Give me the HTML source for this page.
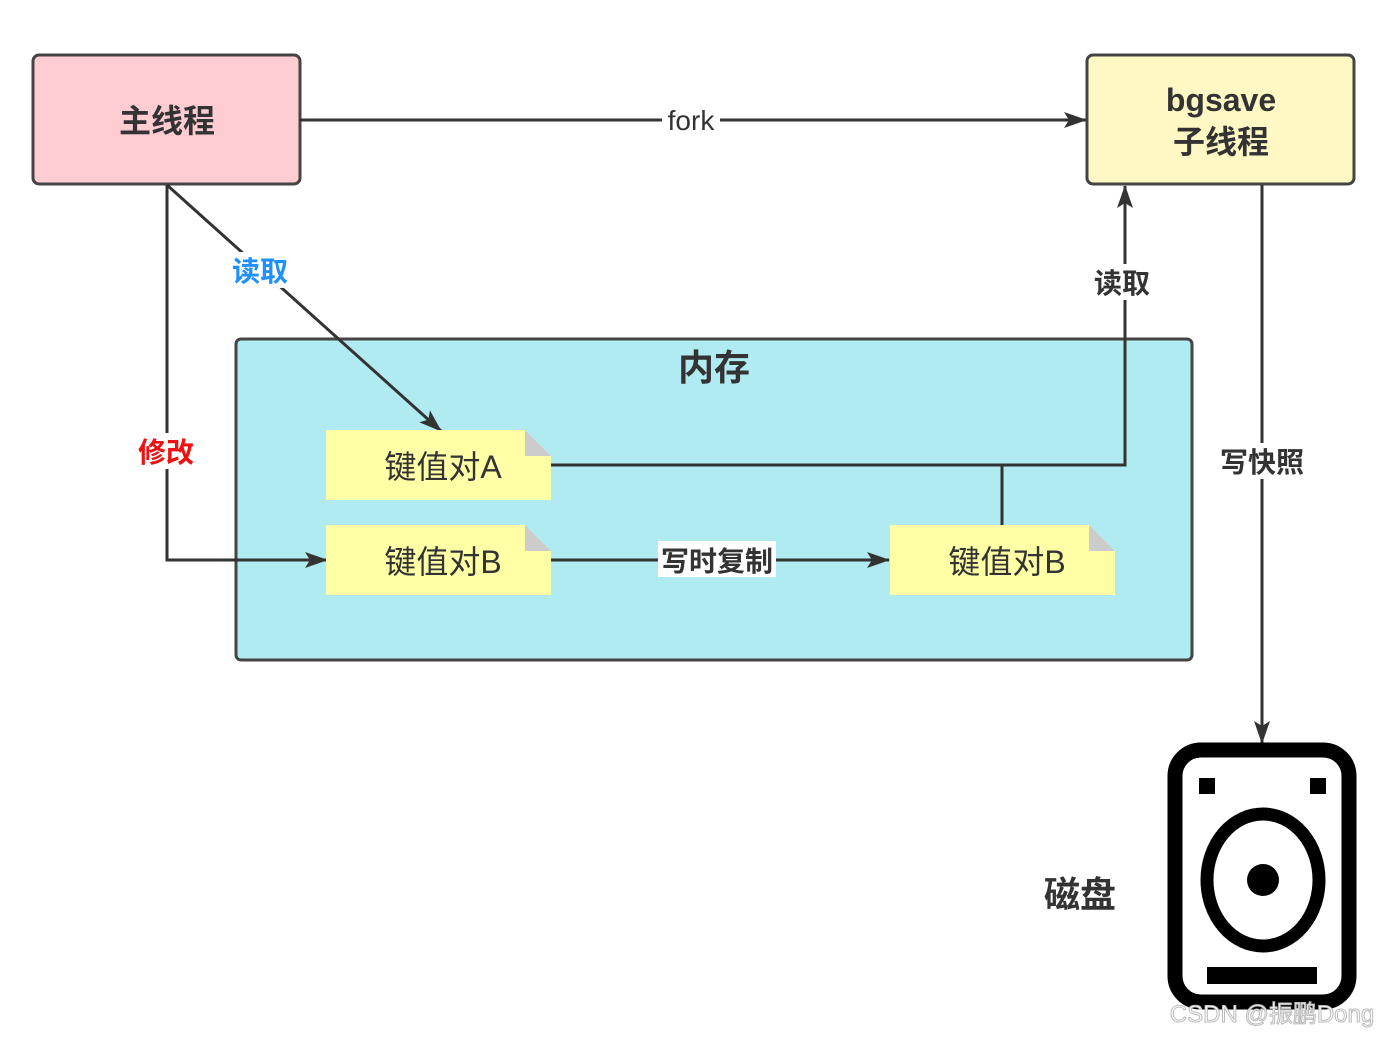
<!DOCTYPE html>
<html><head><meta charset="utf-8"><style>
html,body{margin:0;padding:0;background:#fff;}
svg{display:block;}
text{font-family:"Liberation Sans","Noto Sans CJK SC",sans-serif;}
</style></head><body>
<svg width="1383" height="1037" viewBox="0 0 1383 1037" xmlns="http://www.w3.org/2000/svg">
<defs>
<marker id="ar" markerWidth="12" markerHeight="12" refX="11" refY="6" orient="auto" markerUnits="userSpaceOnUse">
<path d="M0,0 L12,6 L0,12 L3,6 Z" fill="#333"/>
</marker>
<marker id="ar2" markerWidth="24" markerHeight="16" refX="22" refY="8" orient="auto" markerUnits="userSpaceOnUse">
<path d="M0,0 L23,8 L0,16 L5,8 Z" fill="#333"/>
</marker>
</defs>
<!-- memory -->
<rect x="236" y="339" width="956" height="321" rx="5" fill="#b0ebf2" stroke="#444" stroke-width="3"/>
<text x="714" y="380" font-size="36" font-weight="bold" fill="#333" text-anchor="middle">内存</text>
<!-- main thread -->
<rect x="33" y="55" width="267" height="129" rx="6" fill="#ffccd2" stroke="#444" stroke-width="3"/>
<text x="167" y="132" font-size="32" font-weight="bold" fill="#333" text-anchor="middle">主线程</text>
<!-- bgsave -->
<rect x="1087" y="55" width="267" height="129" rx="6" fill="#fff8c4" stroke="#444" stroke-width="3"/>
<text x="1221" y="111" font-size="32" font-weight="bold" fill="#333" text-anchor="middle">bgsave</text>
<text x="1221" y="153" font-size="32" font-weight="bold" fill="#333" text-anchor="middle">子线程</text>
<!-- lines -->
<g stroke="#333" stroke-width="3" fill="none">
<line x1="300" y1="120" x2="1086" y2="120" marker-end="url(#ar2)"/>
<line x1="167" y1="185" x2="441" y2="431" marker-end="url(#ar2)"/>
<polyline points="167,185 167,560 327,560" marker-end="url(#ar2)"/>
<polyline points="551,465 1125,465 1125,186" marker-end="url(#ar2)"/>
<line x1="1002" y1="525" x2="1002" y2="465"/>
<line x1="551" y1="560" x2="889" y2="560" marker-end="url(#ar2)"/>
<line x1="1262" y1="185" x2="1262" y2="743" marker-end="url(#ar2)"/>
</g>
<!-- labels -->
<rect x="662" y="104" width="58" height="30" fill="#fff"/>
<text x="691" y="130" font-size="28" fill="#333" text-anchor="middle">fork</text>
<rect x="228" y="252" width="64" height="36" fill="#fff"/>
<text x="260" y="281" font-size="28" font-weight="bold" fill="#1e90ff" text-anchor="middle">读取</text>
<rect x="134" y="433" width="64" height="36" fill="#fff"/>
<text x="166" y="462" font-size="28" font-weight="bold" fill="#ee1111" text-anchor="middle">修改</text>
<rect x="1091" y="264" width="64" height="36" fill="#fff"/>
<text x="1122" y="293" font-size="28" font-weight="bold" fill="#333" text-anchor="middle">读取</text>
<rect x="1215" y="443" width="94" height="36" fill="#fff"/>
<text x="1262" y="472" font-size="28" font-weight="bold" fill="#333" text-anchor="middle">写快照</text>
<rect x="658" y="541" width="118" height="36" fill="#fff"/>
<text x="717" y="571" font-size="28" font-weight="bold" fill="#333" text-anchor="middle">写时复制</text>
<!-- notes -->
<g>
<path d="M326,430 H525 L551,456 V500 H326 Z" fill="#ffffa6"/>
<path d="M525,430 L551,456 H525 Z" fill="#cccccc"/>
<text x="443" y="478" font-size="32" fill="#333" text-anchor="middle">键值对A</text>
<path d="M326,525 H525 L551,551 V595 H326 Z" fill="#ffffa6"/>
<path d="M525,525 L551,551 H525 Z" fill="#cccccc"/>
<text x="443" y="573" font-size="32" fill="#333" text-anchor="middle">键值对B</text>
<path d="M890,525 H1089 L1115,551 V595 H890 Z" fill="#ffffa6"/>
<path d="M1089,525 L1115,551 H1089 Z" fill="#cccccc"/>
<text x="1007" y="573" font-size="32" fill="#333" text-anchor="middle">键值对B</text>
</g>
<!-- disk -->
<text x="1080" y="907" font-size="36" font-weight="bold" fill="#333" text-anchor="middle">磁盘</text>
<rect x="1175" y="750" width="174" height="252" rx="26" fill="#fff" stroke="#000" stroke-width="15"/>
<rect x="1199" y="778" width="16" height="16" fill="#000"/>
<rect x="1310" y="778" width="16" height="16" fill="#000"/>
<ellipse cx="1263" cy="880" rx="56" ry="66" fill="none" stroke="#000" stroke-width="13"/>
<circle cx="1263" cy="880" r="16" fill="#000"/>
<rect x="1207" y="967" width="110" height="17" fill="#000"/>
<text x="1272" y="1022" font-size="24" fill="#fff" stroke="#bbb" stroke-width="1" text-anchor="middle">CSDN @振鹏Dong</text>
</svg>
</body></html>
